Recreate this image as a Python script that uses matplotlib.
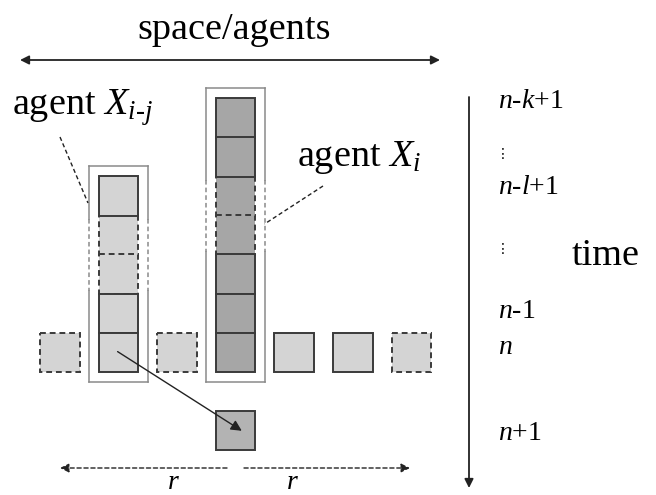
import matplotlib
matplotlib.use("Agg")
import matplotlib.pyplot as plt
from matplotlib.patches import Rectangle

plt.rcParams['font.family'] = ['Liberation Serif', 'DejaVu Sans']
plt.rcParams['mathtext.fontset'] = 'custom'
plt.rcParams['mathtext.rm'] = 'Liberation Serif'
plt.rcParams['mathtext.it'] = 'Liberation Serif:italic'
plt.rcParams['mathtext.bf'] = 'Liberation Serif:bold'

# ---- diagram data ----
n_cols = 7
agent_i_col = 3
agent_i_rows = [0, 1, 2, 3, 4, 5, 6]
agent_i_dashed = [2, 3]
agent_ij_col = 1
agent_ij_rows = [2, 3, 4, 5, 6]
agent_ij_dashed = [3, 4]
row_n = 6
neighbour_cols = [0, 2, 4, 5, 6]
neighbour_dashed = [0, 2, 6]
next_col = 3
next_row = 8
time_labels = ["$n$-$k$+1", "\u22ee", "$n$-$l$+1", "\u22ee", "$n$-1", "$n$", "$n$+1"]
time_label_y = [101, 154, 188, 249, 311, 348, 433]

# ---- layout ----
X0, DX = 40, 58.6
Y0, DY = 98, 39.1
S = 39.5
light = '#d4d4d4'
dark = '#a6a6a6'
nextc = '#b3b3b3'
edge = '#3a3a3a'
framec = '#8a8a8a'

fig = plt.figure(figsize=(6.56, 4.95), dpi=100)
ax = fig.add_axes([0, 0, 1, 1])
ax.set_xlim(0, 656)
ax.set_ylim(495, 0)
ax.axis('off')

def cx(c):
    return X0 + c * DX

def ry(r):
    return Y0 + r * DY

def cell(c, r, color, dashed):
    ax.add_patch(Rectangle((cx(c), ry(r)), S, S, facecolor=color,
                           edgecolor=edge, lw=1.4,
                           linestyle=(0, (3, 2)) if dashed else '-',
                           zorder=3 if dashed else 4))

def frame(c, rows, dashed_rows):
    pad = 10
    x0, x1 = cx(c) - pad, cx(c) + S + pad
    y0, y1 = ry(rows[0]) - pad, ry(rows[-1]) + S + pad
    dy0 = ry(dashed_rows[0]) + 4
    dy1 = ry(dashed_rows[-1]) + S - 3
    kw = dict(color=framec, lw=1.1, zorder=2)
    ax.plot([x0, x1], [y0, y0], **kw)
    ax.plot([x0, x1], [y1, y1], **kw)
    for x in (x0, x1):
        ax.plot([x, x], [y0, dy0], **kw)
        ax.plot([x, x], [dy1, y1], **kw)
        ax.plot([x, x], [dy0, dy1], color=framec, lw=1.1,
                linestyle=(0, (3, 2)), zorder=2)

for r in agent_i_rows:
    cell(agent_i_col, r, dark, r in agent_i_dashed)
for r in agent_ij_rows:
    cell(agent_ij_col, r, light, r in agent_ij_dashed)
for c in neighbour_cols:
    cell(c, row_n, light, c in neighbour_dashed)
cell(next_col, next_row, nextc, False)

frame(agent_i_col, agent_i_rows, agent_i_dashed)
frame(agent_ij_col, agent_ij_rows, agent_ij_dashed)

# leader lines
ax.plot([60, 88], [137, 203], color='#222222', lw=1.0, linestyle=(0, (3, 2)), zorder=5)
ax.plot([323, 264.5], [186, 224], color='#222222', lw=1.0, linestyle=(0, (3, 2)), zorder=5)

# influence arrow
ax.annotate('', xy=(cx(next_col) + 26, ry(next_row) + 20),
            xytext=(cx(agent_ij_col) + 19, ry(row_n) + 19),
            arrowprops=dict(arrowstyle='-|>', color='#222222', lw=1.0,
                            mutation_scale=16, shrinkA=0, shrinkB=0), zorder=6)

# top space arrow
ax.annotate('', xy=(20, 60), xytext=(440, 60),
            arrowprops=dict(arrowstyle='<|-|>', color='#222222', lw=1.3,
                            mutation_scale=13, shrinkA=0, shrinkB=0))
ax.text(234, 30, 'space/agents', fontsize=27.5, ha='center', va='center')

# bottom r arrows
ax.annotate('', xy=(60, 468), xytext=(227, 468),
            arrowprops=dict(arrowstyle='-|>', color='#222222', lw=1.0,
                            linestyle=(0, (3, 2)), mutation_scale=13,
                            shrinkA=0, shrinkB=0))
ax.annotate('', xy=(410, 468), xytext=(244, 468),
            arrowprops=dict(arrowstyle='-|>', color='#222222', lw=1.0,
                            linestyle=(0, (3, 2)), mutation_scale=13,
                            shrinkA=0, shrinkB=0))
ax.text(173, 489, 'r', fontsize=20, ha='center', va='baseline', style='italic')
ax.text(292, 489, 'r', fontsize=20, ha='center', va='baseline', style='italic')

# time axis
ax.annotate('', xy=(469, 488), xytext=(469, 97),
            arrowprops=dict(arrowstyle='-|>', color='#222222', lw=1.3,
                            mutation_scale=13, shrinkA=0, shrinkB=0))
for lab, y in zip(time_labels, time_label_y):
    if lab == "\u22ee":
        ax.text(503, y, lab, fontsize=10, ha='center', va='center',
                family=['DejaVu Sans'])
    else:
        ax.text(498, y, lab, fontsize=20, ha='left', va='center')
ax.text(640, 256, 'time', fontsize=27.5, ha='right', va='center')

# agent labels
ax.text(12, 108, r'agent $X_{i\text{-}j}$', fontsize=27.5, ha='left', va='center')
ax.text(297, 158, r'agent $X_i$', fontsize=27.5, ha='left', va='center')

fig.savefig('out.png', dpi=100)
